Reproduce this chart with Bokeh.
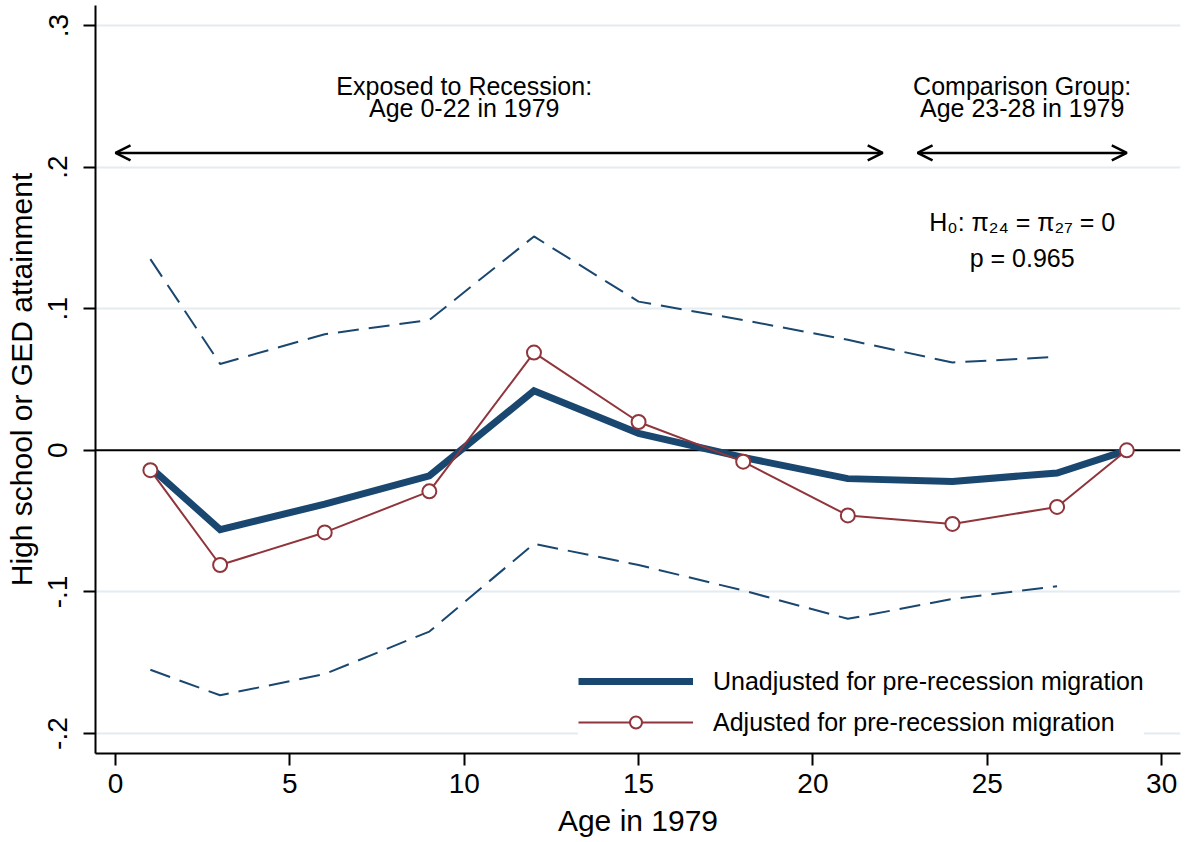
from bokeh.plotting import figure
from bokeh.models import (Range1d, FixedTicker, Span, Arrow, OpenHead, Legend, LegendItem, ColumnDataSource)
from bokeh.core.properties import value
from bokeh.embed import file_html
from bokeh.resources import INLINE

# ---- data ----
ages = [1, 3, 6, 9, 12, 15, 18, 21, 24, 27, 29]
unadjusted = [-0.012, -0.056, -0.038, -0.018, 0.042, 0.012, -0.005, -0.020, -0.022, -0.016, 0.0]
adjusted = [-0.014, -0.081, -0.058, -0.029, 0.069, 0.020, -0.008, -0.046, -0.052, -0.040, 0.0]
ci_ages = [1, 3, 6, 9, 12, 15, 18, 21, 24, 27]
ci_upper = [0.135, 0.061, 0.082, 0.092, 0.151, 0.105, 0.092, 0.078, 0.062, 0.066]
ci_lower = [-0.155, -0.173, -0.158, -0.128, -0.066, -0.081, -0.099, -0.119, -0.105, -0.096]

x_ticks = [0, 5, 10, 15, 20, 25, 30]
y_ticks = [-0.2, -0.1, 0, 0.1, 0.2, 0.3]
y_tick_labels = ["-.2", "-.1", "0", ".1", ".2", ".3"]

group_labels_x = [10, 26]
group_line1 = ["Exposed to Recession:", "Comparison Group:"]
group_line2 = ["Age 0-22 in 1979", "Age 23-28 in 1979"]
arrow_spans = [(0, 22), (23, 29)]
arrow_y = 0.21

test_x = 26
test_line1 = "H\u2080: \u03c0\u2082\u2084 = \u03c0\u2082\u2087 = 0"
test_line2 = "p = 0.965"

NAVY = "#1a476f"
MAROON = "#90353b"
FONT = "Liberation Sans"

p = figure(width=1185, height=842, output_backend="svg", toolbar_location=None,
           x_range=Range1d(-0.5735, 30.54), y_range=Range1d(-0.2141, 0.3141),
           min_border_left=95, min_border_top=5, min_border_right=5, min_border_bottom=89)
p.outline_line_color = None
p.background_fill_color = "white"
p.border_fill_color = "white"

# axes
p.xaxis.ticker = FixedTicker(ticks=x_ticks)
p.yaxis.ticker = FixedTicker(ticks=y_ticks)
p.yaxis.major_label_overrides = {t: l for t, l in zip(y_ticks, y_tick_labels)}
p.yaxis.major_label_orientation = "vertical"
for ax in (p.xaxis, p.yaxis):
    ax.axis_line_width = 2
    ax.axis_line_color = "black"
    ax.major_tick_line_width = 2
    ax.major_tick_line_color = "black"
    ax.major_tick_out = 12
    ax.major_tick_in = 0
    ax.minor_tick_line_color = None
    ax.major_label_text_font = FONT
    ax.major_label_text_font_size = "28px"
    ax.major_label_text_color = "black"
    ax.axis_label_text_font = FONT
    ax.axis_label_text_font_size = "30px"
    ax.axis_label_text_font_style = "normal"
    ax.axis_label_text_color = "black"
p.xaxis.axis_label = "Age in 1979"
p.yaxis.axis_label = "High school or GED attainment"
p.xaxis.major_label_standoff = 8
p.yaxis.major_label_standoff = 16
p.xaxis.axis_label_standoff = 8
p.yaxis.axis_label_standoff = 8

p.xgrid.grid_line_color = None
p.ygrid.ticker = FixedTicker(ticks=[-0.2, -0.1, 0.1, 0.2, 0.3])
p.ygrid.grid_line_color = "#e4ecef"
p.ygrid.grid_line_width = 2

p.add_layout(Span(location=0, dimension="width", line_color="black", line_width=2, level="underlay"))

# CI dashed
p.line(ci_ages, ci_upper, line_color=NAVY, line_width=2, line_dash="21 10")
p.line(ci_ages, ci_lower, line_color=NAVY, line_width=2, line_dash="21 10")

r_un = p.line(ages, unadjusted, line_color=NAVY, line_width=7, line_join="miter")
r_adj_l = p.line(ages, adjusted, line_color=MAROON, line_width=2)
r_adj_c = p.scatter(ages, adjusted, marker="circle", size=14, line_color=MAROON, line_width=2, fill_color="white")

# group annotations
src = ColumnDataSource(dict(x=group_labels_x, l1=group_line1, l2=group_line2,
                            y1=[0.2576] * 2, y2=[0.2415] * 2))
p.text("x", "y1", text="l1", source=src, text_align="center", text_baseline="middle",
       text_font=value(FONT), text_font_size="25px", text_color="black")
p.text("x", "y2", text="l2", source=src, text_align="center", text_baseline="middle",
       text_font=value(FONT), text_font_size="25px", text_color="black")

for (a, b) in arrow_spans:
    p.add_layout(Arrow(start=OpenHead(size=15, line_width=2.5, line_color="black"),
                       end=OpenHead(size=15, line_width=2.5, line_color="black"),
                       x_start=a, x_end=b, y_start=arrow_y, y_end=arrow_y,
                       line_width=2.5, line_color="black"))

p.text([test_x], [0.161], text=[test_line1], text_align="center", text_baseline="middle",
       text_font=value(FONT), text_font_size="25px", text_color="black")
p.text([test_x], [0.136], text=[test_line2], text_align="center", text_baseline="middle",
       text_font=value(FONT), text_font_size="25px", text_color="black")

legend = Legend(items=[LegendItem(label="Unadjusted for pre-recession migration", renderers=[r_un]),
                       LegendItem(label="Adjusted for pre-recession migration", renderers=[r_adj_l, r_adj_c])],
                location=(483, 16), orientation="vertical",
                glyph_width=115, glyph_height=30, label_height=30, spacing=11,
                label_standoff=20, padding=6, margin=0,
                label_text_font=FONT, label_text_font_size="25px", label_text_color="black",
                border_line_color=None, background_fill_color="white", background_fill_alpha=1.0)
p.add_layout(legend)

open("out.html", "w").write(file_html(p, INLINE))
